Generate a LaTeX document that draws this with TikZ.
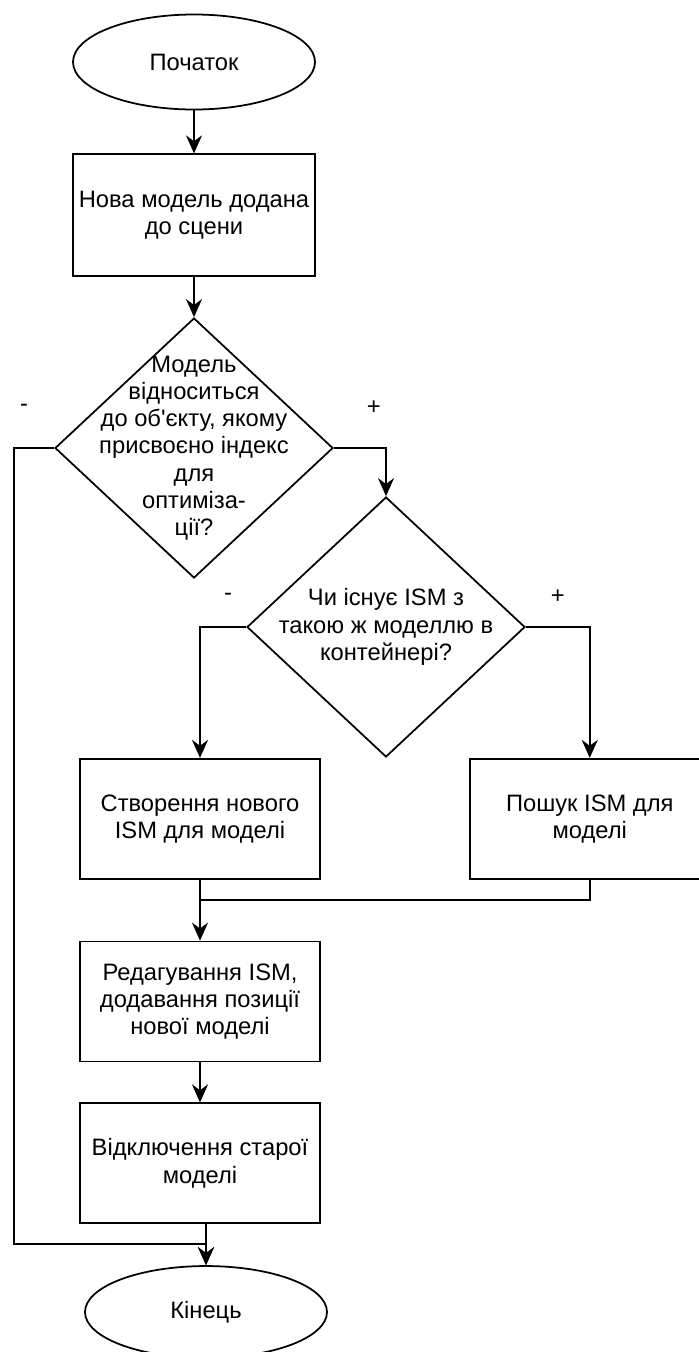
\documentclass[tikz,border=0pt]{standalone}
\usepackage{fontspec}
\setmainfont{Liberation Sans}
\usepackage{tikz}
\usetikzlibrary{shapes.geometric, arrows.meta, positioning}

\begin{document}
\begin{tikzpicture}[
    node distance=0.8cm,
    every node/.style={font=\fontsize{13.5}{15.5}\selectfont},
    terminal/.style={ellipse, draw, line width=1pt, minimum width=4.84cm, minimum height=1.9cm},
    block/.style={rectangle, draw, line width=1pt, minimum width=4.8cm, minimum height=2.4cm, align=center},
    decision/.style={diamond, draw, line width=1pt, minimum width=5.56cm, minimum height=5.2cm, inner sep=-0.7cm, align=center},
    arrow/.style={-{Stealth[length=3.6mm, width=3.2mm]}, line width=1pt},
    sign/.style={inner sep=0pt}
]
\useasboundingbox (0,0) rectangle (13.96,-27.04);

\node[terminal] (start) at (3.88,-1.24) {Початок};
\node[block, below=0.86cm of start, minimum width=4.84cm, minimum height=2.44cm] (scene) {Нова модель додана\\до сцени};
\node[decision, below=0.8cm of scene] (model) {Модель\\відноситься\\до об\textquotesingle єкту, якому\\присвоєно індекс\\для\\оптиміза-\\ції?};
\node[decision] (exists) at ([shift={(3.84,-3.58)}]model.center) {Чи існує ISM з\\такою ж моделлю в\\контейнері?};
\node[block, below=3.58cm of model, xshift=0.12cm] (create) {Створення нового\\ISM для моделі};
\node[block, right=2.96cm of create] (search) {Пошук ISM для\\моделі};
\node[block, below=1.22cm of create] (edit) {Редагування ISM,\\додавання позиції\\нової моделі};
\node[block, below=0.8cm of edit] (disable) {Відключення старої\\моделі};
\node[terminal, below=0.82cm of disable, xshift=0.12cm, minimum height=1.84cm] (finish) {Кінець};

% branch marks
\node[sign] (nomodel) at ([shift={(-0.6,0.8)}]model.west) {-};
\node[sign] (yesmodel) at ([shift={(0.8,0.8)}]model.east) {+};
\node[sign] (noism) at ([shift={(-0.36,0.6)}]exists.west) {-};
\node[sign] (yesism) at ([shift={(0.64,0.6)}]exists.east) {+};

\coordinate (merge) at ([yshift=-0.4cm]create.south);

\draw[arrow] (start) -- (scene);
\draw[arrow] (scene) -- (model);
\draw[arrow] (model.east) -| (exists.north);
\draw[arrow] (model.west) -- ++(-0.8,0) |- ([yshift=0.42cm]finish.north) -- (finish.north);
\draw[arrow] (exists.west) -| (create.north);
\draw[arrow] (exists.east) -| (search.north);
\draw[arrow] (create) -- (edit);
\draw[line width=1pt] (search.south) |- (merge);
\draw[arrow] (edit) -- (disable);
\draw[arrow] (disable.south -| finish.north) -- (finish.north);

\end{tikzpicture}
\end{document}
